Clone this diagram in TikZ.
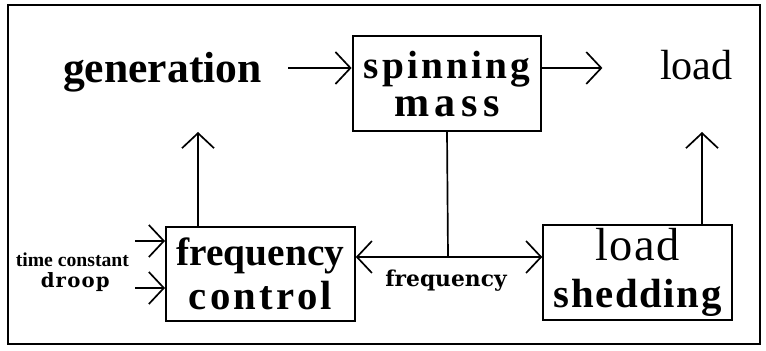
\documentclass[tikz,border=0pt]{standalone}
\usepackage{fontspec}
\setmainfont{Liberation Serif}
\newfontfamily\slabfont{DejaVu Serif}
\usetikzlibrary{arrows.meta,positioning}

% letter-spaced bold serif for the block names
\newcommand{\spaced}[1]{\addfontfeatures{LetterSpace=#1}}

\begin{document}
\begin{tikzpicture}[
    box/.style={rectangle, draw, line width=1.4pt, minimum width=4.72cm, minimum height=2.36cm, inner sep=0pt, align=center},
    arrow/.style={-{Straight Barb[length=3.75mm,width=8mm]}, line width=1.2pt},
    bigtext/.style={font=\bfseries\fontsize{31}{31}\selectfont, inner sep=1pt},
    smalltext/.style={font=\bfseries\fontsize{14}{14}\selectfont, inner sep=1pt}
]
    \useasboundingbox (0,0) rectangle (19.15,8.75);
    \draw[line width=1.4pt] (0.2,0.15) rectangle (19.0,8.625);

    % blocks
    \node[box, font={\bfseries\fontsize{28}{27}\selectfont}] (mass) at (11.175,6.66)
        {{\spaced{8}spinning}\\{\fontsize{30}{27}\selectfont\spaced{13}mass}};
    \node[box, font={\bfseries\fontsize{28}{31}\selectfont}] (fctrl) at (6.51,1.9)
        {frequency\\{\fontsize{29}{31}\selectfont\spaced{8}control}};
    \node[box, font={\bfseries\fontsize{29}{33}\selectfont}] (shed) at (15.94,1.94)
        {{\mdseries\fontsize{33}{33}\selectfont\spaced{3}load}\\{\spaced{4}shedding}};

    % outer quantities
    \node[bigtext, anchor=base] (gen) at (4.06,6.675) {generation};
    \node[bigtext, font={\fontsize{30}{30}\selectfont}, anchor=base] (load) at (17.41,6.75) {load};

    % inputs of the frequency control
    \node[smalltext, anchor=base] (tconst) at (1.81,2.075) {time constant};
    \node[smalltext, font={\slabfont\bfseries\fontsize{14}{14}\selectfont\spaced{6}}, anchor=base] (droop) at (1.88,1.55) {droop};
    \node[smalltext, font={\slabfont\bfseries\fontsize{15.5}{15.5}\selectfont}, anchor=base] (freq) at (11.15,1.575) {frequency};

    \coordinate (top) at (0,7.05);
    \coordinate (genin) at (4.95,5.45);
    \coordinate (loadin) at (17.55,5.45);
    \coordinate (junc) at (11.2,2.325);
    \coordinate (tcin) at (3.375,2.725);
    \coordinate (drin) at (3.375,1.55);

    \draw[arrow, shorten <=0.62cm] (gen.east |- top) -- (mass.west |- top);
    \draw[arrow, shorten >=1.4cm] (mass.east |- top) -- (load.west |- top);
    \draw[arrow] (genin |- fctrl.north) -- (genin);
    \draw[arrow] (loadin |- shed.north) -- (loadin);

    \draw[line width=1.2pt] (mass.south) -- (junc);
    \draw[arrow] (junc) -- (junc -| fctrl.east);
    \draw[arrow] (junc) -- (junc -| shed.west);

    \draw[arrow] (tcin) -- (tcin -| fctrl.west);
    \draw[arrow] (drin) -- (drin -| fctrl.west);
\end{tikzpicture}
\end{document}
